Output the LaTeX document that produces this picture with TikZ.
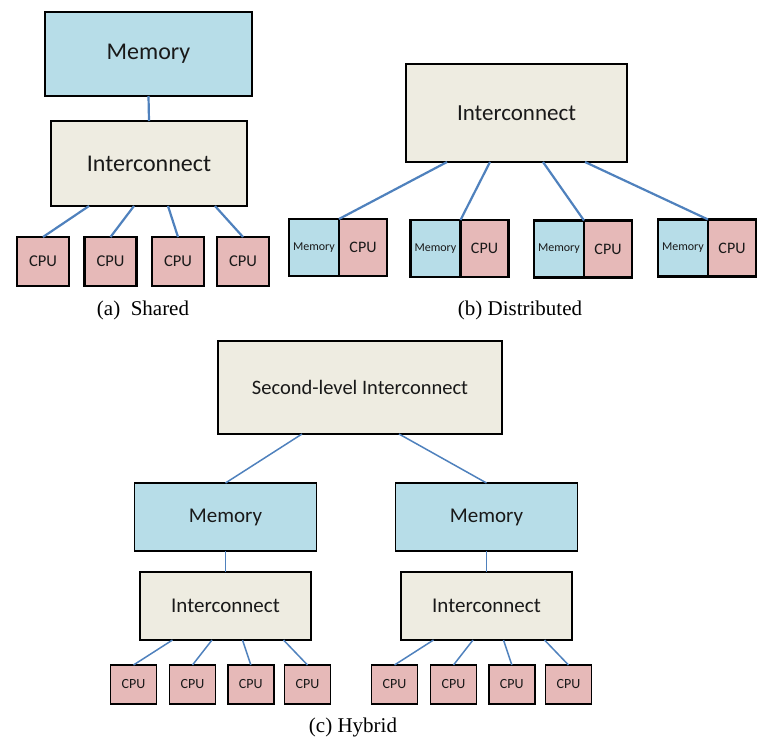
\documentclass[tikz,border=0pt]{standalone}
\usepackage{fontspec}
\setmainfont{Liberation Serif}
\newfontfamily\boxfont{Carlito}
\usetikzlibrary{positioning,calc}

\definecolor{memblue}{HTML}{B7DDE8}
\definecolor{netgray}{HTML}{EEECE1}
\definecolor{cpured}{HTML}{E6B9B8}
\definecolor{wireblue}{HTML}{4F81BD}

\newcommand{\fsz}[1]{\fontsize{#1}{#1}\selectfont}

\begin{document}
\begin{tikzpicture}[x=1pt, y=-1pt,
            box/.style={draw=black, line width=2.4pt, text=black!90, inner sep=0pt, outer sep=0pt},
            mem/.style={box, fill=memblue},
            net/.style={box, fill=netgray},
            cpu/.style={box, fill=cpured},
            hyb/.style={line width=1.8pt},
            wire/.style={draw=wireblue, line width=2.2pt},
            hwire/.style={draw=wireblue, line width=1.5pt},
            caption/.style={font=\fsz{21}}]
        \useasboundingbox (0,0) rectangle (761,738);

        % (a) shared
        \node[mem, minimum width=207, minimum height=84, font=\boxfont\fsz{24}] (amem) at (148.5,54) {Memory};
        \node[net, minimum width=196, minimum height=85, font=\boxfont\fsz{24}] (anet) at (149,163.5) {Interconnect};
        \foreach \x [count=\i] in {43,110.5,178,243}
            \node[cpu, minimum width=52, minimum height=49, font=\boxfont\fsz{16.5}] (acpu\i) at (\x,261.5) {CPU};
        \draw[wire] (amem.south) -- (anet.north);
        \foreach \d [count=\i] in {-60,-15,19,66}
            \draw[wire] ([xshift=\d]anet.south) -- (acpu\i.north);
        \node[caption] (acap) at (143,310) {(a)\ \ Shared};

        % (b) distributed
        \node[net, minimum width=221, minimum height=98, font=\boxfont\fsz{23}] (bnet) at (516.5,113) {Interconnect};
        \foreach \x/\y [count=\i] in {314/247.5,435.5/248.5,559/249,683/248} {
            \node[mem, minimum width=50, minimum height=57, font=\boxfont\fsz{12}] (bmem\i) at (\x,\y) {Memory};
            \node[cpu, right=0pt of bmem\i, minimum width=48, minimum height=57, font=\boxfont\fsz{16}] (bcpu\i) {CPU};
        }
        \foreach \d [count=\i] in {-69.5,-26.5,26.5,68.5}
            \draw[wire] ([xshift=\d]bnet.south) -- (bmem\i.north east);
        \node[caption] (bcap) at (520,310) {(b) Distributed};

        % (c) hybrid
        \node[net, hyb, minimum width=284, minimum height=93, font=\boxfont\fsz{20.5}] (top) at (360,387.5) {Second-level Interconnect};
        \foreach \s/\cx in {1/225.5,2/486.5} {
            \node[mem, hyb, minimum width=182, minimum height=68, font=\boxfont\fsz{21}] (cmem\s) at (\cx,517) {Memory};
            \node[net, hyb, minimum width=171, minimum height=68, font=\boxfont\fsz{21}] (cnet\s) at (\cx,606) {Interconnect};
            \draw[hwire] (cmem\s.south) -- (cnet\s.north);
            \foreach \o [count=\i] in {-92,-33,25.3,82}
                \node[cpu, hyb, minimum width=46, minimum height=39, font=\boxfont\fsz{14}] (ccpu\s\i) at ($(cnet\s)+(\o,78.5)$) {CPU};
            \foreach \d [count=\i] in {-53,-13.5,17,58}
                \draw[hwire] ([xshift=\d]cnet\s.south) -- (ccpu\s\i.north);
        }
        \draw[hwire] ([xshift=-58]top.south) -- (cmem1.north);
        \draw[hwire] ([xshift=39]top.south) -- (cmem2.north);
        \node[caption] (ccap) at (353,727) {(c) Hybrid};
\end{tikzpicture}
\end{document}
